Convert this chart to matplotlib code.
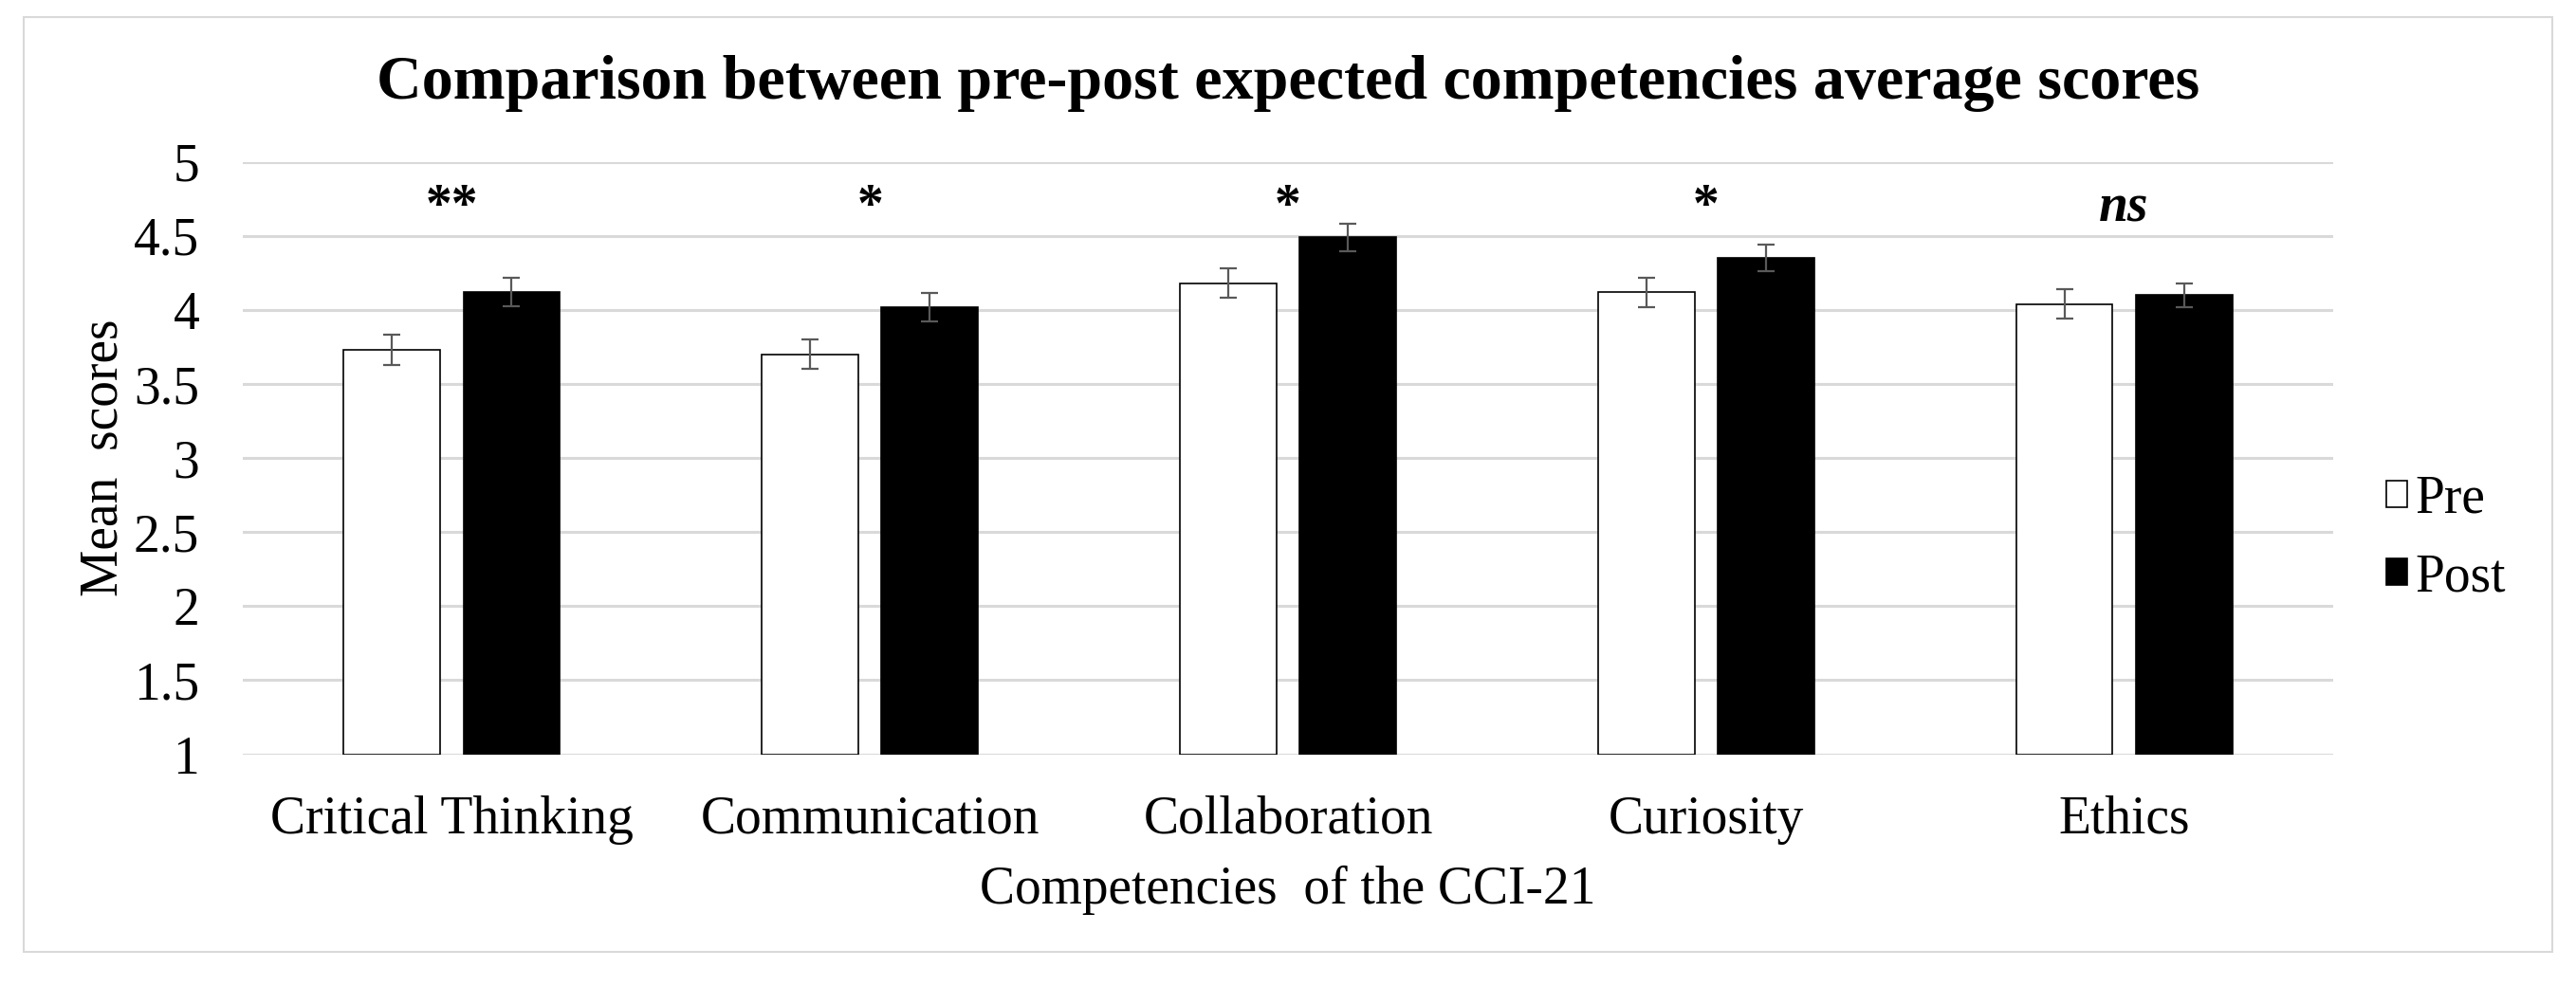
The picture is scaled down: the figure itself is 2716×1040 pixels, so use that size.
import matplotlib
matplotlib.use("Agg")
import matplotlib.pyplot as plt
from matplotlib.patches import Rectangle
import numpy as np

categories = ["Critical Thinking", "Communication", "Collaboration", "Curiosity", "Ethics"]
pre_means = [3.73, 3.70, 4.18, 4.12, 4.04]
post_means = [4.12, 4.02, 4.49, 4.35, 4.10]
pre_err = [0.10, 0.10, 0.10, 0.10, 0.10]
post_err = [0.095, 0.095, 0.095, 0.09, 0.08]
significance = ["**", "*", "*", "*", "ns"]
yticks = [1, 1.5, 2, 2.5, 3, 3.5, 4, 4.5, 5]
ytick_labels = ["1", "1.5", "2", "2.5", "3", "3.5", "4", "4.5", "5"]

plt.rcParams['font.family'] = ['Liberation Serif', 'DejaVu Serif']

W, H = 2716, 1040
fig = plt.figure(figsize=(W / 100, H / 100), dpi=100)
fig.patch.set_facecolor("white")

# outer border
fig.add_artist(Rectangle((25 / W, 1 - 1004 / H), (2691 - 25) / W, (1004 - 18) / H,
                         transform=fig.transFigure, fill=False,
                         edgecolor="#d9d9d9", linewidth=1.5))

ax = fig.add_axes([256 / W, 1 - 795.5 / H, (2460 - 256) / W, (795.5 - 170.7) / H])

x = np.arange(len(categories))
bw = 0.231
off = 0.143
err_kw = dict(ecolor="#595959", elinewidth=1.6, capsize=6.5, capthick=1.6)

ax.bar(x - off, np.array(pre_means) - 1, bw, bottom=1, color="white", edgecolor="black",
       linewidth=1.2, yerr=pre_err, error_kw=err_kw, label="Pre", zorder=3)
ax.bar(x + off, np.array(post_means) - 1, bw, bottom=1, color="black", edgecolor="black",
       linewidth=1.2, yerr=post_err, error_kw=err_kw, label="Post", zorder=3)

for i, s in enumerate(significance):
    if s == "ns":
        ax.text(x[i], 4.6, s, ha="center", va="baseline", fontsize=40,
                fontweight="bold", fontstyle="italic")
    else:
        ax.text(x[i], 4.6, s, ha="center", va="baseline", fontsize=40, fontweight="bold")

ax.set_xlim(-0.5, len(categories) - 0.5)
ax.set_ylim(1, 5)
ax.set_yticks(yticks)
ax.set_yticklabels(ytick_labels)
ax.set_xticks(x)
ax.set_xticklabels(categories)
ax.tick_params(axis="both", length=0, labelsize=40)
ax.tick_params(axis="y", pad=33)
ax.tick_params(axis="x", pad=31)
ax.yaxis.grid(True, color="#d9d9d9", linewidth=2.2, zorder=0)
ax.set_axisbelow(True)
for sp in ax.spines.values():
    sp.set_visible(False)

ax.set_ylabel("Mean  scores", fontsize=40, labelpad=4)
ax.set_xlabel("Competencies  of the CCI-21", fontsize=40, labelpad=16)

fig.text(1358 / W, 1 - 88 / H, "Comparison between pre-post expected competencies average scores",
         ha="center", va="center", fontsize=47.5, fontweight="bold")

handles, labels = ax.get_legend_handles_labels()
fig.legend(handles, labels, loc="center left", bbox_to_anchor=(2488 / W, 1 - 568 / H),
           frameon=False, fontsize=40, handlelength=0.4, handleheight=0.4,
           handletextpad=0.15, labelspacing=0.55, borderpad=0)

fig.savefig("out.png", dpi=100, facecolor="white")
